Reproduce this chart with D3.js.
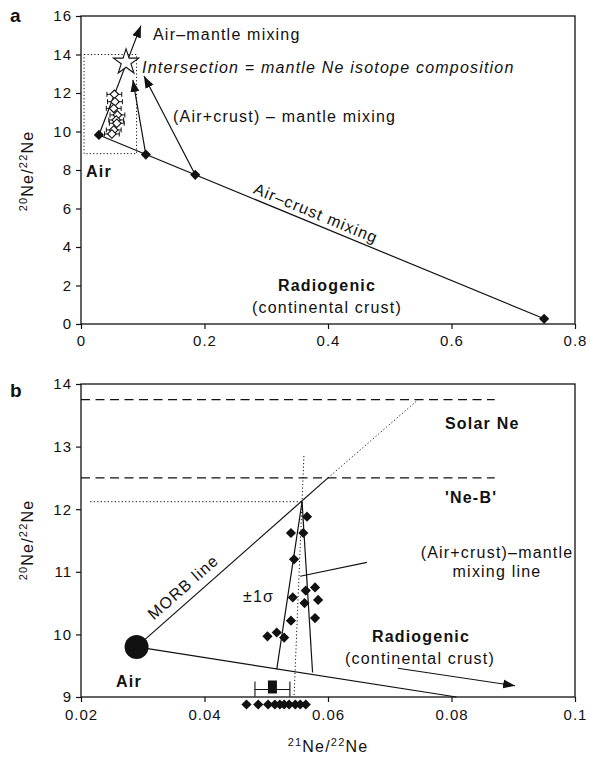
<!DOCTYPE html>
<html><head><meta charset="utf-8">
<script src="https://cdn.jsdelivr.net/npm/d3@7"></script>
<style>
body{margin:0;background:#fff}
text{font-family:"Liberation Sans",Arial,Helvetica,sans-serif;fill:#111;letter-spacing:1.2px}
</style>
</head><body>
<svg id="chart" width="590" height="760"></svg>
<script>
// ---------- Panel a data ----------
const aXTicks = [0, 0.2, 0.4, 0.6, 0.8];
const aYTicks = [0, 2, 4, 6, 8, 10, 12, 14, 16];
const aFilledX = [0.029, 0.105, 0.185, 0.75];   // air, two air+crust mixtures, crust
const aFilledY = [9.82, 8.80, 7.75, 0.27];
const aOpenX = [0.054, 0.055, 0.053, 0.059, 0.057, 0.058, 0.053, 0.050];
const aOpenY = [11.93, 11.55, 11.20, 10.86, 10.60, 10.43, 10.08, 9.87];
const aOpenErr = 0.012;
const aStar = [0.073, 13.6];
const aAirMantleTip = [0.097, 15.5];
const aMixTipX = [0.084, 0.102];
const aMixTipY = [12.68, 12.88];
const aBoxX = [0.005, 0.09];
const aBoxY = [8.85, 14.0];

// ---------- Panel b data ----------
const bXTicks = [0.02, 0.04, 0.06, 0.08, 0.1];
const bYTicks = [9, 10, 11, 12, 13, 14];
const bSampleX = [0.0566, 0.0540, 0.0560, 0.0545, 0.0579, 0.0564, 0.0543, 0.0584, 0.0562, 0.0579, 0.0540, 0.0502, 0.0517, 0.0529];
const bSampleY = [11.88, 11.62, 11.62, 11.20, 10.75, 10.70, 10.59, 10.55, 10.50, 10.26, 10.22, 9.97, 10.03, 9.95];
const bRowX = [0.0468, 0.0487, 0.0503, 0.0514, 0.0522, 0.0529, 0.0537, 0.0547, 0.0555, 0.0564];
const bRowY = 8.88;
const bAir = [0.029, 9.8];
const bSolarNe = 13.75;
const bNeB = 12.5;
const bRefLineEnd = 0.087;
const bIntersect = [0.0558, 12.12];
const bMorbSolidEnd = [0.060, 12.5];
const bMorbDotEnd = [0.0746, 13.75];
const bCrustEnd = [0.0808, 9.0];
const bSigmaX = [0.0517, 0.0575];
const bSigmaY = [9.44, 9.39];
const bVertDotX = [0.0561, 0.0545];
const bVertDotY = [12.85, 9.0];
const bMean = [0.0510, 9.12];
const bMeanErr = 0.00283;
const bArrowX = [0.0713, 0.0903];
const bArrowY = [9.46, 9.18];
const bLeaderX = [0.0663, 0.0555];
const bLeaderY = [11.15, 10.93];

const svg = d3.select("#chart");
const INK = "#111";
const FONT = '"Liberation Sans",Arial,Helvetica,sans-serif';

// arrowhead marker
const defs = svg.append("defs");
defs.append("marker").attr("id", "arr")
  .attr("markerUnits", "userSpaceOnUse")
  .attr("markerWidth", 13).attr("markerHeight", 10)
  .attr("refX", 12).attr("refY", 5).attr("orient", "auto")
  .append("path").attr("d", "M0,0.5 L12,5 L0,9.5 Z").attr("fill", INK);

function line(g, p1, p2, opts = {}) {
  const l = g.append("line")
    .attr("x1", p1[0]).attr("y1", p1[1]).attr("x2", p2[0]).attr("y2", p2[1])
    .attr("stroke", INK).attr("stroke-width", opts.w || 1.2);
  if (opts.dash) l.attr("stroke-dasharray", opts.dash);
  if (opts.arrow) l.attr("marker-end", "url(#arr)");
  return l;
}
const diamond = d3.symbol().type(d3.symbolSquare);

function yTitle(g, x, y) {
  const t = g.append("text").attr("transform", `translate(${x},${y}) rotate(-90)`)
    .attr("text-anchor", "middle").attr("font-size", 16);
  t.append("tspan").attr("font-size", 11).attr("dy", -6).text("20");
  t.append("tspan").attr("dy", 6).text("Ne/");
  t.append("tspan").attr("font-size", 11).attr("dy", -6).text("22");
  t.append("tspan").attr("dy", 6).text("Ne");
}

function frameAxes(g, x, y, xt, yt, xfmt, pad) {
  const [x0, x1] = x.range(), [y0, y1] = y.range();
  const ax = g.append("g").attr("transform", `translate(0,${y0})`)
    .call(d3.axisBottom(x).tickValues(xt).tickSize(5).tickSizeOuter(0).tickPadding(pad).tickFormat(xfmt));
  const ay = g.append("g").attr("transform", `translate(${x0},0)`)
    .call(d3.axisLeft(y).tickValues(yt).tickSize(5).tickSizeOuter(0).tickPadding(4).tickFormat(d3.format("d")));
  [ax, ay].forEach(a => {
    a.select(".domain").remove();
    a.selectAll("line").attr("stroke", INK).attr("stroke-width", 1.2);
    a.selectAll("text").attr("font-size", 15).attr("font-family", FONT).attr("fill", INK)
      .style("letter-spacing", "1px");
  });
  g.append("rect").attr("x", x0).attr("y", y1).attr("width", x1 - x0).attr("height", y0 - y1)
    .attr("fill", "none").attr("stroke", INK).attr("stroke-width", 1.3);
}

// ================= Panel a =================
const xa = d3.scaleLinear().domain([0, 0.8]).range([81, 575]);
const ya = d3.scaleLinear().domain([0, 16]).range([324, 16]);
const ga = svg.append("g");
const P = (x, y, sx, sy) => [sx(x), sy(y)];

frameAxes(ga, xa, ya, aXTicks, aYTicks, d3.format(".1~f"), 6);
yTitle(ga, 33, 171);
ga.append("text").attr("x", 10).attr("y", 22).attr("font-size", 19).attr("font-weight", "bold").text("a");

// dotted box
ga.append("rect").attr("x", xa(aBoxX[0])).attr("y", ya(aBoxY[1]))
  .attr("width", xa(aBoxX[1]) - xa(aBoxX[0])).attr("height", ya(aBoxY[0]) - ya(aBoxY[1]))
  .attr("fill", "none").attr("stroke", INK).attr("stroke-width", 1).attr("stroke-dasharray", "1.2,2.2");

const aAir = P(aFilledX[0], aFilledY[0], xa, ya);
const aCrust = P(aFilledX[3], aFilledY[3], xa, ya);
line(ga, aAir, aCrust);
line(ga, aAir, P(aAirMantleTip[0], aAirMantleTip[1], xa, ya), {arrow: true});
line(ga, P(aFilledX[1], aFilledY[1], xa, ya), P(aMixTipX[0], aMixTipY[0], xa, ya), {arrow: true});
line(ga, P(aFilledX[2], aFilledY[2], xa, ya), P(aMixTipX[1], aMixTipY[1], xa, ya), {arrow: true});

// open diamonds with error bars
aOpenX.forEach((x, i) => {
  const y = ya(aOpenY[i]);
  line(ga, [xa(x - aOpenErr), y], [xa(x + aOpenErr), y], {w: 1});
  [x - aOpenErr, x + aOpenErr].forEach(e => line(ga, [xa(e), y - 2.5], [xa(e), y + 2.5], {w: 1}));
});
ga.selectAll(".od").data(aOpenX).join("path")
  .attr("d", diamond.size(36)())
  .attr("transform", (d, i) => `translate(${xa(d)},${ya(aOpenY[i])}) rotate(45)`)
  .attr("fill", "#fff").attr("stroke", INK).attr("stroke-width", 1.1);

ga.selectAll(".fd").data(aFilledX).join("path")
  .attr("d", diamond.size(52)())
  .attr("transform", (d, i) => `translate(${xa(d)},${ya(aFilledY[i])}) rotate(45)`)
  .attr("fill", INK);

ga.append("path").attr("d", d3.symbol().type(d3.symbolStar).size(200)())
  .attr("transform", `translate(${xa(aStar[0])},${ya(aStar[1])})`)
  .attr("fill", "#fff").attr("stroke", INK).attr("stroke-width", 1.1);

ga.append("text").attr("x", 153).attr("y", 40).attr("font-size", 16).text("Air–mantle mixing");
ga.append("text").attr("x", 142).attr("y", 73).attr("font-size", 16).attr("font-style", "italic")
  .text("Intersection = mantle Ne isotope composition");
ga.append("text").attr("x", 173).attr("y", 122).attr("font-size", 16).text("(Air+crust) – mantle mixing");
ga.append("text").attr("x", 86).attr("y", 177).attr("font-size", 16).attr("font-weight", "bold").text("Air");
{
  const ang = Math.atan2(aCrust[1] - aAir[1], aCrust[0] - aAir[0]) * 180 / Math.PI;
  const mx = xa(0.374), my = ya(aFilledY[0] + (aFilledY[3] - aFilledY[0]) * (0.374 - aFilledX[0]) / (aFilledX[3] - aFilledX[0]));
  ga.append("text").attr("transform", `translate(${mx},${my}) rotate(${ang})`)
    .attr("text-anchor", "middle").attr("dy", -5).attr("font-size", 16).text("Air–crust mixing");
}
ga.append("text").attr("x", 327).attr("y", 291).attr("text-anchor", "middle").attr("font-size", 16)
  .attr("font-weight", "bold").text("Radiogenic");
ga.append("text").attr("x", 327).attr("y", 313).attr("text-anchor", "middle").attr("font-size", 16)
  .text("(continental crust)");

// ================= Panel b =================
const xb = d3.scaleLinear().domain([0.02, 0.1]).range([81, 575]);
const yb = d3.scaleLinear().domain([9, 14]).range([697, 384]);
const gb = svg.append("g");

frameAxes(gb, xb, yb, bXTicks, bYTicks, d3.format(".2~f"), 7);
yTitle(gb, 33, 540);
gb.append("text").attr("x", 10).attr("y", 397).attr("font-size", 19).attr("font-weight", "bold").text("b");
{
  const t = gb.append("text").attr("x", 328).attr("y", 752).attr("text-anchor", "middle").attr("font-size", 16);
  t.append("tspan").attr("font-size", 11).attr("dy", -6).text("21");
  t.append("tspan").attr("dy", 6).text("Ne/");
  t.append("tspan").attr("font-size", 11).attr("dy", -6).text("22");
  t.append("tspan").attr("dy", 6).text("Ne");
}

// reference dashed lines
[bSolarNe, bNeB].forEach(v => line(gb, [xb(0.02), yb(v)], [xb(bRefLineEnd), yb(v)], {dash: "9,5.5", w: 1.1}));
// dotted horizontal at intersection
line(gb, [xb(0.0215), yb(bIntersect[1])], [xb(bIntersect[0]), yb(bIntersect[1])], {dash: "1.2,2.3", w: 1});
// dotted vertical
line(gb, [xb(bVertDotX[0]), yb(bVertDotY[0])], [xb(bVertDotX[1]), yb(bVertDotY[1])], {dash: "1.2,2.3", w: 1});

const bAirP = [xb(bAir[0]), yb(bAir[1])];
// MORB line
line(gb, bAirP, [xb(bMorbSolidEnd[0]), yb(bMorbSolidEnd[1])]);
line(gb, [xb(bMorbSolidEnd[0]), yb(bMorbSolidEnd[1])], [xb(bMorbDotEnd[0]), yb(bMorbDotEnd[1])], {dash: "1.2,2.3", w: 1});
// air-crust line
line(gb, bAirP, [xb(bCrustEnd[0]), yb(bCrustEnd[1])]);
// ±1σ mixing lines
bSigmaX.forEach((x, i) => line(gb, [xb(bIntersect[0]), yb(bIntersect[1])], [xb(x), yb(bSigmaY[i])]));
// leader
line(gb, [xb(bLeaderX[0]), yb(bLeaderY[0])], [xb(bLeaderX[1]), yb(bLeaderY[1])], {w: 1.1});
// radiogenic arrow
line(gb, [xb(bArrowX[0]), yb(bArrowY[0])], [xb(bArrowX[1]), yb(bArrowY[1])], {arrow: true, w: 1.1});

// air circle
gb.append("circle").attr("cx", bAirP[0]).attr("cy", bAirP[1]).attr("r", 12).attr("fill", INK);

// samples
gb.selectAll(".sd").data(bSampleX).join("path")
  .attr("d", diamond.size(52)())
  .attr("transform", (d, i) => `translate(${xb(d)},${yb(bSampleY[i])}) rotate(45)`)
  .attr("fill", INK);
gb.selectAll(".rd").data(bRowX).join("path")
  .attr("d", diamond.size(52)())
  .attr("transform", d => `translate(${xb(d)},${yb(bRowY)}) rotate(45)`)
  .attr("fill", INK);

// mean with error bar
{
  const cy = yb(bMean[1]);
  line(gb, [xb(bMean[0] - bMeanErr), cy], [xb(bMean[0] + bMeanErr), cy], {w: 1.1});
  [bMean[0] - bMeanErr, bMean[0] + bMeanErr].forEach(e => line(gb, [xb(e), cy - 8], [xb(e), cy + 7], {w: 1.1}));
  gb.append("rect").attr("x", xb(bMean[0]) - 4.5).attr("y", cy - 9).attr("width", 9).attr("height", 13).attr("fill", INK);
}

// labels
gb.append("text").attr("x", 445).attr("y", 429).attr("font-size", 16).attr("font-weight", "bold").text("Solar Ne");
gb.append("text").attr("x", 445).attr("y", 503).attr("font-size", 16).attr("font-weight", "bold").text("'Ne-B'");
gb.append("text").attr("x", 497).attr("y", 558).attr("text-anchor", "middle").attr("font-size", 16).text("(Air+crust)–mantle");
gb.append("text").attr("x", 497).attr("y", 577).attr("text-anchor", "middle").attr("font-size", 16).text("mixing line");
gb.append("text").attr("x", 243).attr("y", 602).attr("font-size", 16).text("±1σ");
gb.append("text").attr("x", 116).attr("y", 687).attr("font-size", 16).attr("font-weight", "bold").text("Air");
gb.append("text").attr("x", 421).attr("y", 642).attr("text-anchor", "middle").attr("font-size", 16)
  .attr("font-weight", "bold").text("Radiogenic");
gb.append("text").attr("x", 420).attr("y", 664).attr("text-anchor", "middle").attr("font-size", 16)
  .text("(continental crust)");
{
  const p1 = [xb(bAir[0]), yb(bAir[1])], p2 = [xb(bMorbSolidEnd[0]), yb(bMorbSolidEnd[1])];
  const ang = Math.atan2(p2[1] - p1[1], p2[0] - p1[0]) * 180 / Math.PI;
  gb.append("text").attr("transform", `translate(${xb(0.0381)},${yb(10.58)}) rotate(${ang})`)
    .attr("text-anchor", "middle").attr("dy", -9).attr("font-size", 16).text("MORB line");
}
</script>
</body></html>
